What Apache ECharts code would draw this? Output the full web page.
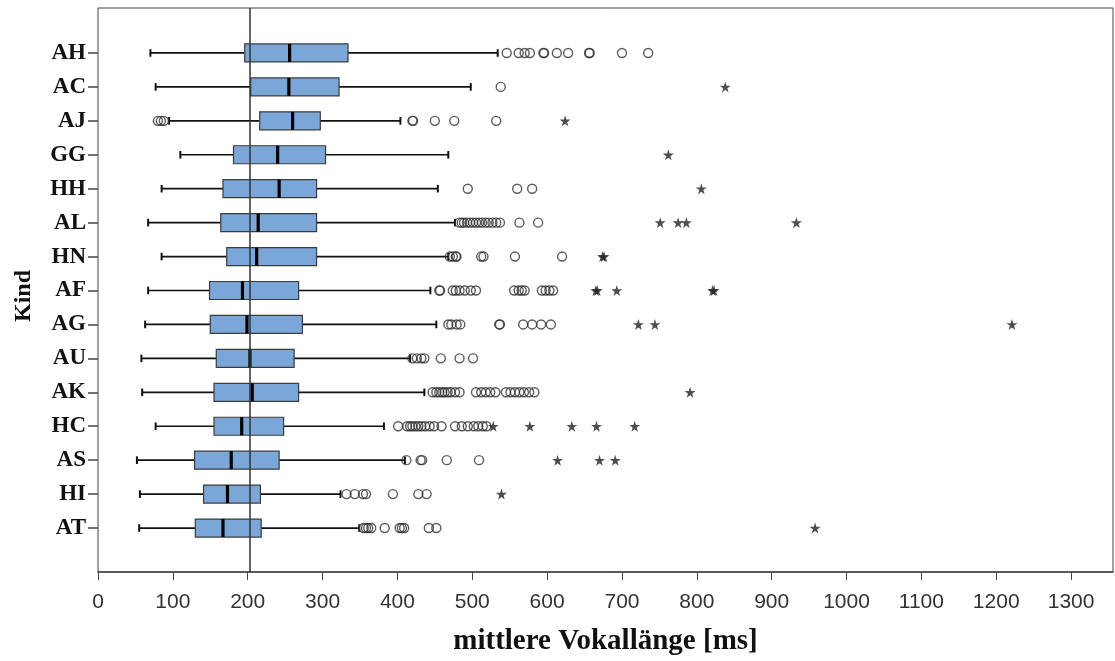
<!DOCTYPE html>
<html>
<head>
<meta charset="utf-8">
<script src="https://cdn.jsdelivr.net/npm/echarts@6/dist/echarts.min.js"></script>
<style>
html,body{margin:0;padding:0;background:#fff;}
#chart{width:1115px;height:661px;}
</style>
</head>
<body>
<div id="chart"></div>
<script>
const categories = ['AH','AC','AJ','GG','HH','AL','HN','AF','AG','AU','AK','HC','AS','HI','AT'];
const whiskerLow  = [70, 77, 95, 110, 85, 67, 85, 67, 63, 58, 59, 77, 52, 56, 55];
const q1          = [196, 204, 216, 181, 167, 164, 172, 149, 150, 158, 155, 155, 129, 141, 130];
const median      = [256, 255, 260, 240, 242, 214, 212, 193, 199, 203, 206, 192, 178, 173, 167];
const q3          = [334, 322, 297, 304, 292, 292, 292, 268, 273, 262, 268, 248, 242, 217, 218];
const whiskerHigh = [534, 498, 404, 468, 454, 477, 468, 444, 452, 417, 436, 382, 410, 324, 349];
const outliers = [
  [546, 562, 570, 577, 595, 596, 613, 628, 656, 657, 700, 735],
  [538],
  [80, 84, 88, 420, 421, 450, 476, 532],
  [],
  [494, 560, 580],
  [483, 486, 489, 493, 497, 501, 505, 509, 513, 518, 522, 527, 532, 537, 563, 588],
  [470, 474, 478, 479, 512, 515, 557, 620],
  [456, 457, 474, 478, 483, 490, 498, 505, 556, 562, 566, 570, 593, 598, 603, 608],
  [468, 472, 479, 484, 536, 537, 568, 580, 592, 605],
  [420, 426, 432, 436, 458, 483, 501],
  [447, 452, 456, 460, 463, 467, 471, 477, 483, 505, 512, 518, 524, 531, 545, 551, 557, 563, 569, 576, 583],
  [401, 413, 417, 420, 424, 428, 432, 437, 443, 449, 459, 477, 486, 494, 502, 508, 514, 519],
  [412, 431, 433, 466, 509],
  [332, 343, 354, 358, 394, 428, 439],
  [355, 358, 361, 365, 383, 403, 406, 409, 442, 452]
];
const extremes = [
  [], [838], [624], [762], [806], [751, 775, 786, 933], [674, 676], [665, 667, 693, 821, 823],
  [722, 744, 1221], [], [791], [528, 577, 633, 666, 717], [614, 670, 691], [539], [958]
];
const xTicks = [0,100,200,300,400,500,600,700,800,900,1000,1100,1200,1300];
const refLine = 203;
const xMax = 1356;

const boxData = categories.map((c, i) => [i, whiskerLow[i], q1[i], median[i], q3[i], whiskerHigh[i]]);
const outData = [];
outliers.forEach((arr, i) => arr.forEach(v => outData.push([v, i])));
const extData = [];
extremes.forEach((arr, i) => arr.forEach(v => extData.push([v, i])));

const starPath = 'path://M50,0 L61,35 L98,35 L68,57 L79,91 L50,70 L21,91 L32,57 L2,35 L39,35 Z';

const chart = echarts.init(document.getElementById('chart'), null, {renderer: 'canvas'});
chart.setOption({
  backgroundColor: '#fff',
  animation: false,
  grid: [
    {left: 98, right: 2, top: 8, bottom: 88, show: true, borderColor: '#444', borderWidth: 1, backgroundColor: 'transparent'},
    {left: 98, right: 2, top: 36, bottom: 116}
  ],
  xAxis: [
    {
      gridIndex: 0, type: 'value', min: 0, max: xMax, interval: 100,
      name: 'mittlere Vokallänge [ms]', nameLocation: 'middle', nameGap: 55,
      nameTextStyle: {fontFamily: 'Liberation Serif', fontWeight: 'bold', fontSize: 29, color: '#111'},
      axisLine: {show: true, lineStyle: {color: '#444', width: 1.5}},
      axisTick: {show: true, length: 8, lineStyle: {color: '#444'}, customValues: xTicks},
      axisLabel: {show: true, fontFamily: 'Liberation Sans', fontSize: 21, color: '#333', margin: 20,
                  customValues: xTicks, formatter: function (v) { return String(v); }},
      splitLine: {show: false}
    },
    {gridIndex: 1, type: 'value', min: 0, max: xMax, show: false, splitLine: {show: false}}
  ],
  yAxis: [
    {
      gridIndex: 0, type: 'value', min: 0, max: 1,
      name: 'Kind', nameLocation: 'middle', nameGap: 62, nameRotate: 90,
      nameTextStyle: {fontFamily: 'Liberation Serif', fontWeight: 'bold', fontSize: 24, color: '#111', padding: [0, 12, 0, 0]},
      axisLine: {show: false}, axisTick: {show: false}, axisLabel: {show: false}, splitLine: {show: false}
    },
    {
      gridIndex: 1, type: 'category', data: categories, inverse: true,
      axisLine: {show: false},
      axisTick: {show: true, length: 10, alignWithLabel: true, lineStyle: {color: '#444', width: 1.5}},
      axisLabel: {fontFamily: 'Liberation Serif', fontWeight: 'bold', fontSize: 23, color: '#111', margin: 12},
      splitLine: {show: false}
    }
  ],
  series: [
    {
      type: 'custom', xAxisIndex: 1, yAxisIndex: 1, z: 2,
      encode: {y: 0, x: [1, 2, 3, 4, 5]},
      data: boxData,
      renderItem: function (params, api) {
        const c = api.value(0);
        const lo = api.coord([api.value(1), c]);
        const b1 = api.coord([api.value(2), c]);
        const md = api.coord([api.value(3), c]);
        const b3 = api.coord([api.value(4), c]);
        const hi = api.coord([api.value(5), c]);
        const band = api.size([0, 1])[1];
        const h = band * 0.53, half = h / 2, cap = 3.8;
        const y = lo[1];
        const ws = {stroke: '#111', lineWidth: 1.7};
        return {type: 'group', children: [
          {type: 'line', shape: {x1: lo[0], y1: y, x2: b1[0], y2: y}, style: ws},
          {type: 'line', shape: {x1: b3[0], y1: y, x2: hi[0], y2: y}, style: ws},
          {type: 'line', shape: {x1: lo[0], y1: y - cap, x2: lo[0], y2: y + cap}, style: {stroke: '#111', lineWidth: 2}},
          {type: 'line', shape: {x1: hi[0], y1: y - cap, x2: hi[0], y2: y + cap}, style: {stroke: '#111', lineWidth: 2}},
          {type: 'rect', shape: {x: b1[0], y: y - half, width: b3[0] - b1[0], height: h}, style: {fill: '#7aa7d7', stroke: '#3c3c3c', lineWidth: 1.2}},
          {type: 'line', shape: {x1: md[0], y1: y - half, x2: md[0], y2: y + half}, style: {stroke: '#000', lineWidth: 3.2}}
        ]};
      }
    },
    {
      type: 'scatter', xAxisIndex: 1, yAxisIndex: 1, z: 3,
      symbol: 'circle', symbolSize: 9,
      itemStyle: {color: 'rgba(255,255,255,0)', borderColor: '#333', borderWidth: 1.4},
      data: outData, silent: true
    },
    {
      type: 'scatter', xAxisIndex: 1, yAxisIndex: 1, z: 3,
      symbol: starPath, symbolSize: 11,
      itemStyle: {color: '#222'},
      data: extData, silent: true
    },
    {
      type: 'line', xAxisIndex: 0, yAxisIndex: 0, z: 10, data: [],
      markLine: {
        silent: true, symbol: 'none', label: {show: false},
        lineStyle: {color: '#333', width: 1.5, type: 'solid'},
        data: [{xAxis: refLine}]
      }
    }
  ]
});
</script>
</body>
</html>
